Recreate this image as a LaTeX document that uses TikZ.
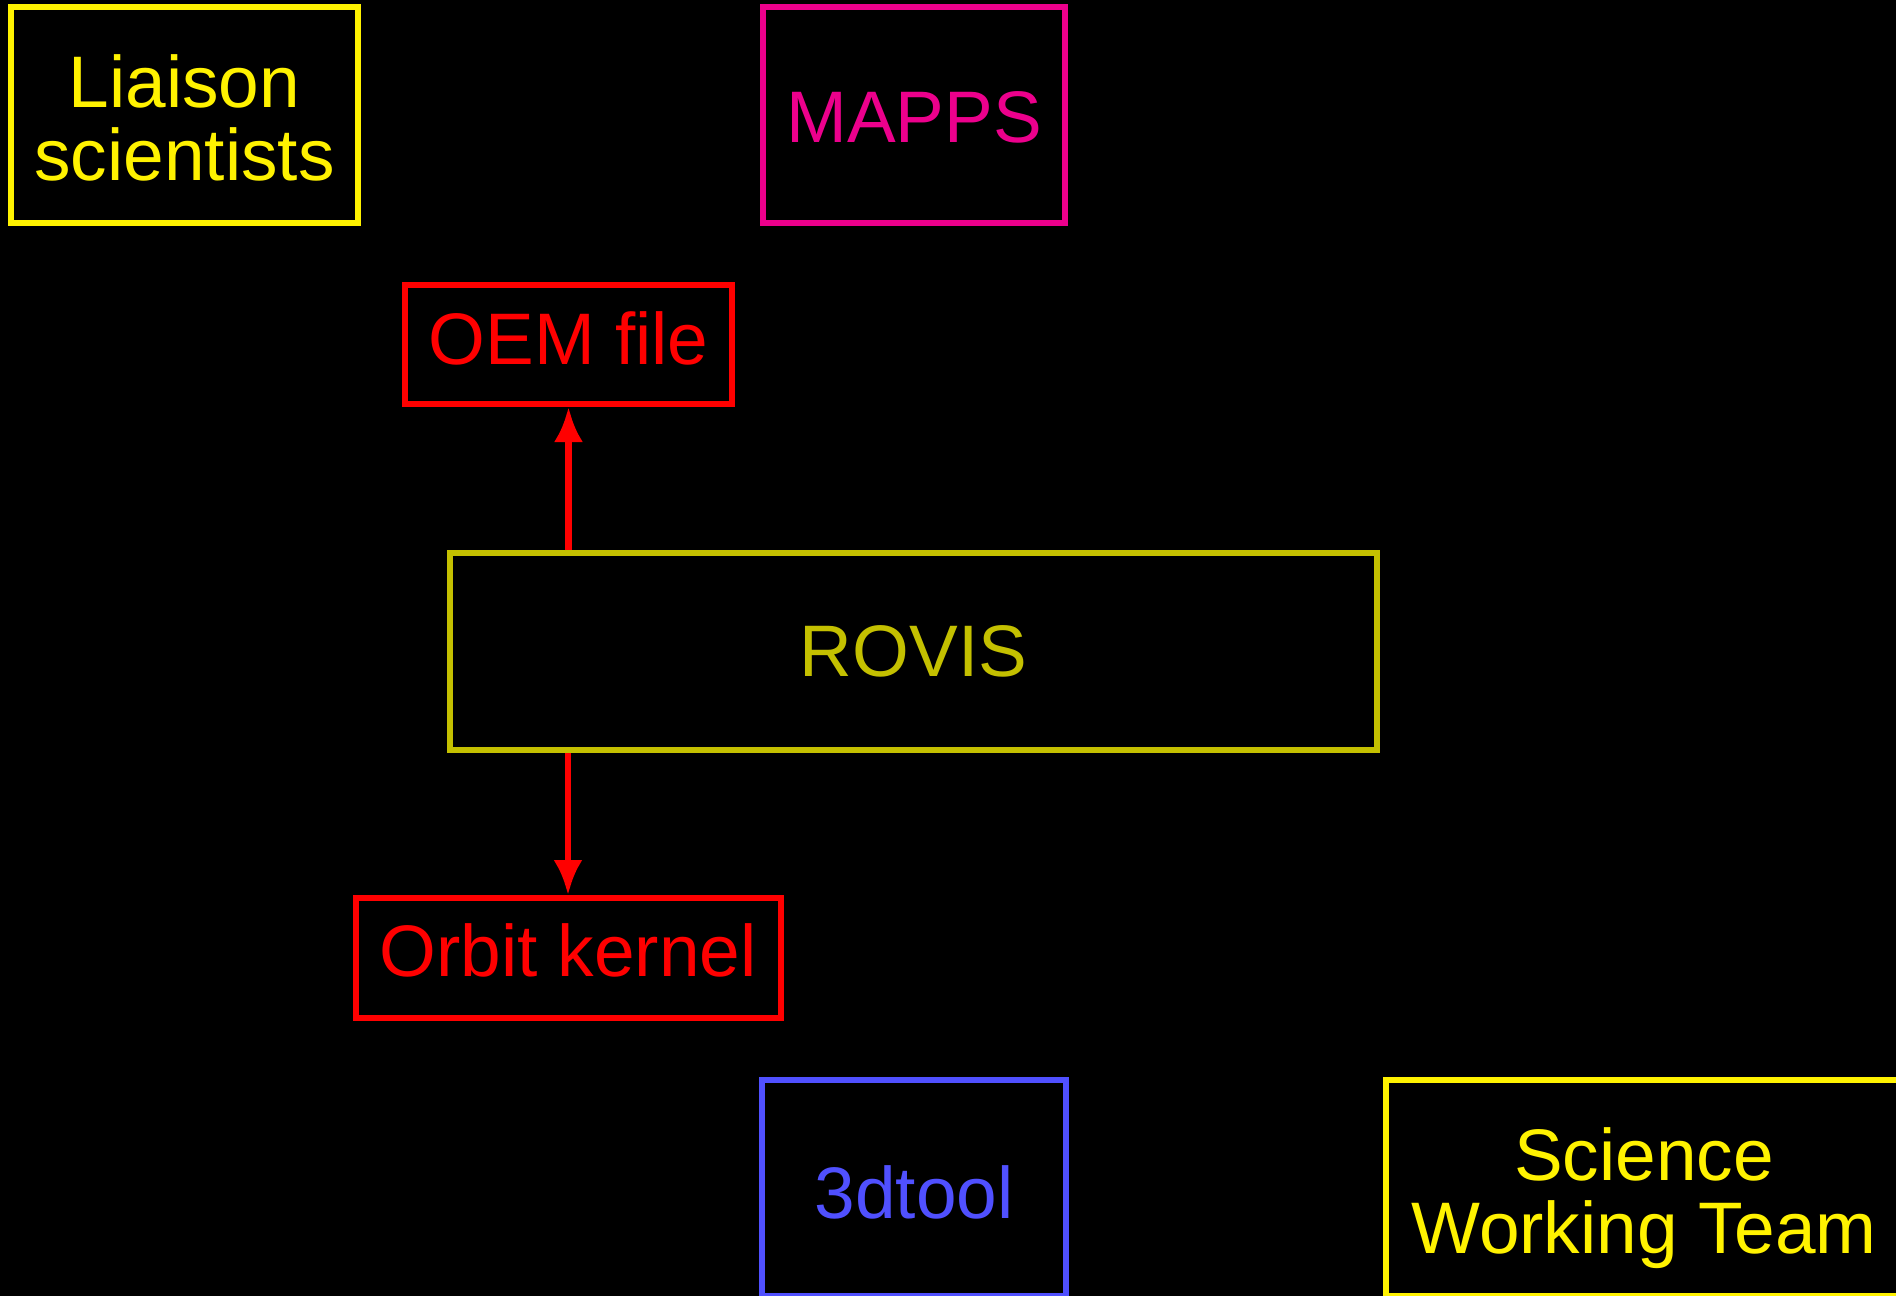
\documentclass[tikz,border=0pt]{standalone}
\usepackage{fontspec}
\setmainfont{Liberation Sans}
\usetikzlibrary{arrows.meta}
\tikzset{>={Latex[length=17.5pt,width=14.5pt]}}
\definecolor{teamyellow}{RGB}{255,242,0}
\definecolor{mappspink}{RGB}{236,0,140}
\definecolor{rovisolive}{RGB}{196,192,0}
\definecolor{toolblue}{RGB}{80,80,255}
\tikzset{box/.style={draw,line width=3pt,inner sep=0pt,align=center,font=\fontsize{36.5}{36.5}\selectfont}}
\newcommand{\lift}[2]{\raisebox{#1}[\height][\depth]{#2}}

\begin{document}
\begin{tikzpicture}[x=0.5pt,y=-0.5pt]
    \fill [black] (0,0) rectangle (1896,1296);
    \useasboundingbox (0,0) rectangle (1896,1296);
    \node (liaison) at (184.5,115) [box,color=teamyellow,minimum width=173.5pt,minimum height=108pt,text height=66pt]{Liaison\\scientists};
    \node (mapps) at (914,115) [box,color=mappspink,minimum width=151pt,minimum height=108pt]{\lift{-1pt}{MAPPS}};
    \node (oem) at (568.5,344.5) [box,color=red,minimum width=163.5pt,minimum height=59.5pt]{\lift{3pt}{OEM file}};
    \node (rovis) at (913.5,651.5) [box,color=rovisolive,minimum width=463.5pt,minimum height=98.5pt]{ROVIS};
    \node (orbit) at (568,958) [box,color=red,minimum width=212.5pt,minimum height=60pt]{\lift{3.75pt}{Orbit kernel}};
    \node (tool) at (914,1188) [box,color=toolblue,minimum width=152pt,minimum height=108pt]{\lift{-2.25pt}{3dtool}};
    \node (swt) at (1644,1188) [box,color=teamyellow,minimum width=258pt,minimum height=108pt,text height=73pt]{Science\\Working Team};
    \draw [->,red,line width=3.3pt] (rovis.north -| oem.south) -- (oem.south);
    \draw [->,red,line width=3.3pt] (rovis.south -| orbit.north) -- (orbit.north);
\end{tikzpicture}
\end{document}
